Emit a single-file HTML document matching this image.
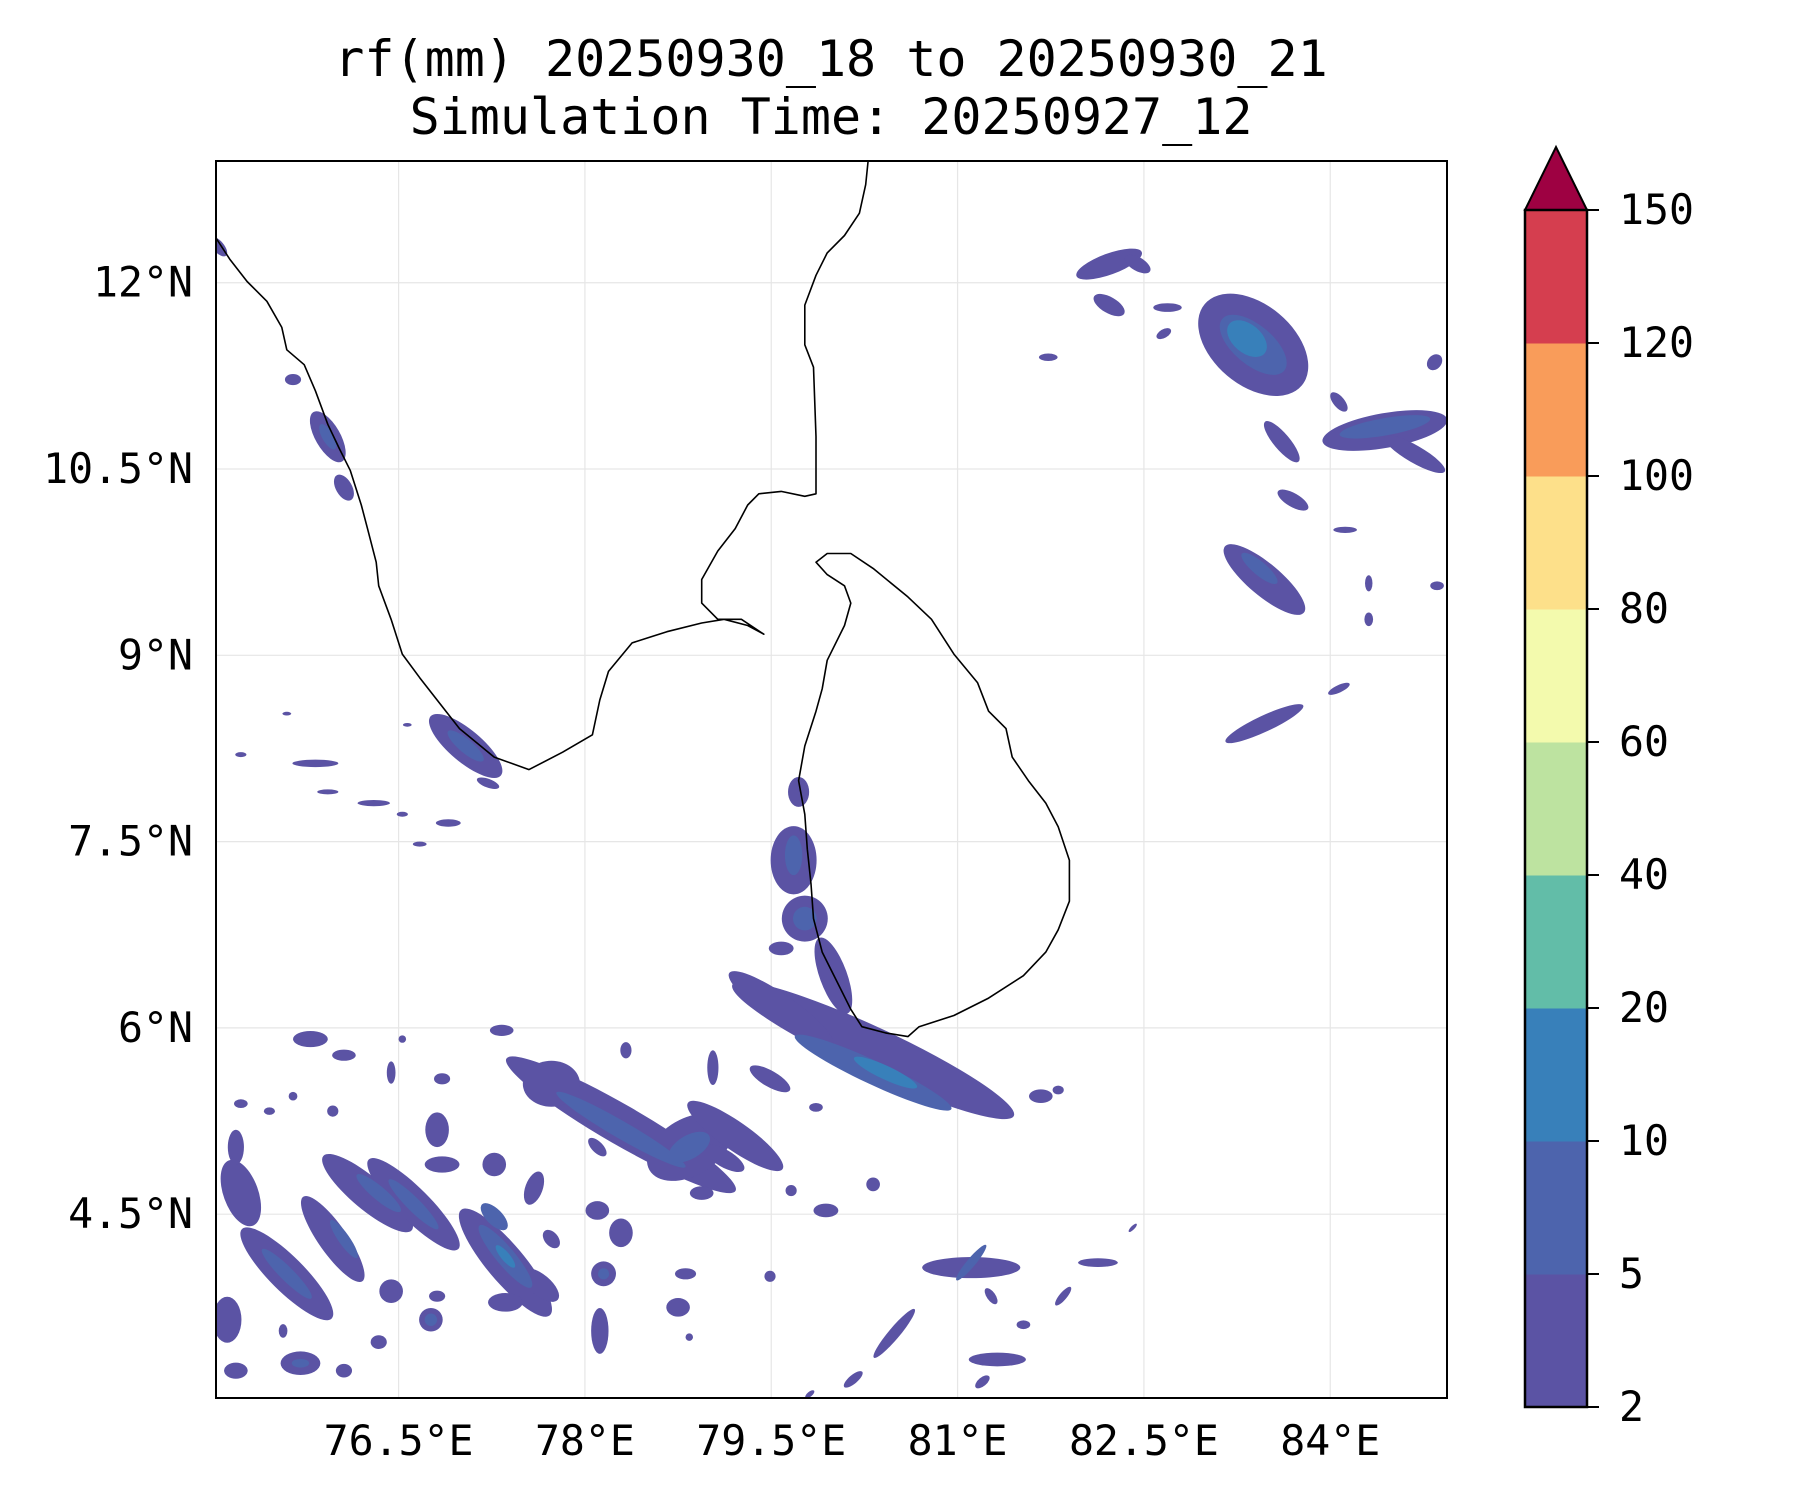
<!DOCTYPE html>
<html><head><meta charset="utf-8"><style>
html,body{margin:0;padding:0;background:#fff;}
svg{display:block;font-family:"DejaVu Sans Mono","Liberation Mono",monospace;}
</style></head><body>
<svg id="chart" width="1800" height="1500" viewBox="0 0 1800 1500" xmlns="http://www.w3.org/2000/svg">
<text x="831" y="76" font-size="50" text-anchor="middle">rf(mm) 20250930_18 to 20250930_21</text>
<text x="831" y="134" font-size="50" text-anchor="middle">Simulation Time: 20250927_12</text>
<defs><clipPath id="mapclip"><rect x="216" y="161" width="1231" height="1237"/></clipPath></defs>
<g id="grid"></g>
<g id="rain" clip-path="url(#mapclip)"></g>
<g id="coast" clip-path="url(#mapclip)"></g>
<rect x="216" y="161" width="1231" height="1237" fill="none" stroke="#000" stroke-width="2"/>
<g id="xlabels"></g>
<g id="ylabels"></g>
<g id="cbar"></g>
</svg>
<script>
const lonTicks=[76.5,78,79.5,81,82.5,84];
const lonTickLabels=["76.5°E","78°E","79.5°E","81°E","82.5°E","84°E"];
const latTicks=[12,10.5,9,7.5,6,4.5];
const latTickLabels=["12°N","10.5°N","9°N","7.5°N","6°N","4.5°N"];
const cbLevels=["2","5","10","20","40","60","80","100","120","150"];
const cbColors=["#5b53a4","#4d64ad","#3880ba","#62bda8","#bde3a0","#f3faad","#fde08a","#f99c5a","#d53e4f"];
const cbExtendColor="#9e0142";
const indiaLon=[75.03,75.14,75.28,75.44,75.56,75.6,75.74,75.83,75.93,76.02,76.11,76.2,76.25,76.32,76.34,76.44,76.53,76.67,76.81,76.99,77.27,77.55,77.82,78.06,78.12,78.19,78.38,78.66,78.94,79.12,79.31,79.44,79.26,79.07,78.94,78.94,79.07,79.21,79.31,79.4,79.58,79.77,79.86,79.86,79.84,79.77,79.77,79.86,79.95,80.09,80.21,80.26,80.28];
const indiaLat=[12.36,12.19,12.01,11.85,11.64,11.46,11.34,11.13,10.86,10.67,10.49,10.21,10.02,9.75,9.56,9.29,9.01,8.82,8.64,8.41,8.18,8.08,8.22,8.36,8.64,8.87,9.1,9.19,9.26,9.29,9.24,9.17,9.29,9.29,9.42,9.61,9.84,10.02,10.21,10.3,10.32,10.28,10.3,10.76,11.32,11.5,11.82,12.06,12.24,12.38,12.56,12.79,12.98];
const lankaLon=[79.86,79.95,80.14,80.32,80.6,80.79,80.97,81.16,81.25,81.39,81.44,81.57,81.71,81.81,81.9,81.9,81.81,81.71,81.53,81.25,80.97,80.69,80.6,80.42,80.23,80.14,80.05,79.91,79.84,79.82,79.79,79.77,79.72,79.77,79.86,79.91,79.95,80.09,80.14,80.09,79.95,79.86];
const lankaLat=[9.75,9.82,9.82,9.7,9.47,9.29,9.01,8.78,8.55,8.41,8.18,7.99,7.81,7.62,7.35,7.02,6.79,6.61,6.42,6.24,6.1,6.01,5.93,5.96,6.01,6.15,6.33,6.61,6.88,7.16,7.44,7.72,7.99,8.27,8.55,8.73,8.96,9.24,9.42,9.56,9.65,9.75];
const rainLon=[83.38,83.38,83.33,82.22,82.45,82.22,82.69,82.66,81.73,84.44,84.44,84.68,84.07,83.61,83.70,83.47,83.43,83.47,84.07,84.31,84.86,84.31,84.12,84.84,75.93,75.93,76.06,75.65,75.05,77.04,77.04,77.22,75.83,75.23,76.30,76.53,76.90,76.67,75.93,75.60,76.57,79.72,79.68,79.68,79.77,79.77,80.0,79.58,80.32,80.32,80.42,79.58,79.49,79.03,78.33,80.69,81.67,81.81,79.86,78.29,78.29,77.73,78.84,78.84,79.21,79.12,78.94,77.59,77.27,78.10,78.10,78.29,77.73,76.81,76.85,76.85,77.33,76.44,76.53,75.79,76.06,75.23,75.46,75.65,75.97,76.25,76.34,76.62,76.62,77.36,77.36,77.36,77.64,77.27,75.97,76.06,75.60,75.60,75.23,75.19,75.12,75.19,75.71,75.71,76.06,76.76,76.76,76.81,76.44,77.36,76.34,78.12,78.15,78.15,78.75,78.84,78.81,79.49,79.94,79.66,80.32,75.57,81.11,81.11,80.49,81.27,81.32,81.20,82.13,81.85,82.41,80.16,79.81,81.53];
const rainLat=[11.50,11.50,11.55,12.15,12.15,11.82,11.80,11.59,11.40,10.81,10.84,10.62,11.04,10.72,10.25,9.61,9.70,8.45,8.73,9.58,9.56,9.29,10.01,11.36,10.76,10.76,10.35,11.22,12.29,8.27,8.27,7.97,8.13,8.20,7.81,7.72,7.65,7.48,7.90,8.53,8.44,7.90,7.35,7.39,6.88,6.88,6.42,6.64,5.82,5.64,5.64,6.15,5.59,5.68,5.82,5.50,5.45,5.50,5.36,5.22,5.18,5.55,5.04,5.04,5.13,4.95,4.67,4.71,4.90,5.04,4.53,4.35,4.30,5.18,4.90,5.59,5.98,5.64,5.91,5.91,5.78,5.39,5.33,5.45,5.33,4.67,4.67,4.58,4.58,4.11,4.16,4.16,3.93,4.48,4.30,4.30,4.02,4.02,4.67,5.04,3.65,3.24,3.30,3.30,3.24,3.65,3.65,3.84,3.88,3.79,3.47,3.56,4.02,4.02,3.75,3.51,4.02,4.0,4.53,4.69,4.74,3.56,4.07,4.11,3.54,3.84,3.33,3.15,4.11,3.84,4.39,3.17,3.05,3.61];
const rainLen=[1.02,0.65,0.37,0.56,0.23,0.28,0.23,0.13,0.15,1.02,0.74,0.56,0.19,0.42,0.28,0.83,0.37,0.69,0.19,0.06,0.11,0.07,0.19,0.14,0.46,0.23,0.23,0.13,0.19,0.74,0.37,0.19,0.37,0.09,0.26,0.09,0.20,0.11,0.17,0.07,0.07,0.17,0.37,0.14,0.37,0.19,0.65,0.20,2.5,1.39,0.56,1.02,0.37,0.09,0.09,0.46,0.19,0.09,0.11,2.13,1.2,0.46,0.74,0.37,0.93,0.37,0.19,0.14,0.19,0.19,0.19,0.19,0.11,0.19,0.28,0.13,0.19,0.07,0.06,0.28,0.19,0.11,0.09,0.07,0.09,0.93,0.46,1.02,0.56,1.11,0.65,0.23,0.37,0.28,0.83,0.37,1.02,0.56,0.28,0.13,0.23,0.19,0.32,0.14,0.13,0.19,0.10,0.13,0.19,0.28,0.13,0.14,0.20,0.09,0.19,0.06,0.17,0.09,0.20,0.09,0.11,0.07,0.79,0.37,0.51,0.07,0.46,0.14,0.32,0.19,0.09,0.19,0.09,0.11];
const rainWid=[0.65,0.32,0.23,0.17,0.11,0.13,0.07,0.07,0.06,0.28,0.14,0.14,0.09,0.13,0.11,0.26,0.11,0.13,0.06,0.13,0.07,0.11,0.05,0.11,0.20,0.09,0.13,0.09,0.09,0.26,0.11,0.07,0.06,0.04,0.05,0.04,0.06,0.04,0.04,0.03,0.03,0.24,0.55,0.32,0.37,0.19,0.22,0.11,0.37,0.19,0.11,0.23,0.13,0.28,0.13,0.13,0.11,0.07,0.07,0.32,0.14,0.37,0.46,0.19,0.23,0.14,0.11,0.28,0.19,0.09,0.15,0.23,0.17,0.28,0.13,0.09,0.09,0.18,0.06,0.13,0.09,0.07,0.06,0.07,0.09,0.26,0.11,0.26,0.11,0.30,0.15,0.07,0.17,0.13,0.23,0.09,0.28,0.11,0.56,0.28,0.37,0.13,0.19,0.07,0.11,0.19,0.10,0.09,0.19,0.15,0.11,0.37,0.20,0.09,0.15,0.06,0.09,0.09,0.11,0.09,0.11,0.11,0.17,0.07,0.09,0.15,0.11,0.07,0.07,0.06,0.03,0.07,0.04,0.07];
const rainAng=[40,40,40,-20,30,30,0,-30,0,-10,-10,30,50,50,30,40,40,-25,-25,0,0,0,0,-50,60,60,60,0,50,40,40,20,0,0,0,0,0,0,0,0,0,0,0,0,60,60,70,0,25,25,25,35,30,0,0,30,0,0,0,30,30,0,-30,-30,35,30,0,20,0,45,0,0,-40,0,0,0,0,0,0,0,0,0,0,0,0,40,40,45,45,50,50,50,40,45,55,55,45,45,-20,0,0,0,0,0,0,0,0,0,0,0,0,0,0,0,0,0,0,0,0,45,0,0,0,-50,-50,-35,0,-40,0,-50,-45,-40,-40,0,0];
const rainLvl=[0,1,2,0,0,0,0,0,0,0,1,0,0,0,0,0,1,0,0,0,0,0,0,0,0,1,0,0,0,0,1,0,0,0,0,0,0,0,0,0,0,0,0,1,0,1,0,0,0,1,2,0,0,0,0,0,0,0,0,0,1,0,0,1,0,0,0,0,0,0,0,0,0,0,0,0,0,0,0,0,0,0,0,0,0,0,1,0,1,0,1,2,0,1,0,1,0,1,0,0,0,0,0,1,0,0,1,0,0,0,0,0,0,1,0,0,0,0,0,0,0,0,0,1,0,0,0,0,0,0,0,0,0,0];

const NS="http://www.w3.org/2000/svg";
const X0=216,X1=1447,Y0=161,Y1=1398;
const LON0=75.03,LON1=84.94,LAT0=3.02,LAT1=12.98;
function xScale(lon){return X0+(lon-LON0)/(LON1-LON0)*(X1-X0);}
function yScale(lat){return Y1-(lat-LAT0)/(LAT1-LAT0)*(Y1-Y0);}
const pxPerDeg=(X1-X0)/(LON1-LON0);
function mk(tag,attrs,parent){const e=document.createElementNS(NS,tag);for(const k in attrs)e.setAttribute(k,attrs[k]);parent.appendChild(e);return e;}

const grid=document.getElementById('grid');
lonTicks.forEach(v=>{const l=mk('line',{x1:xScale(v),x2:xScale(v),y1:Y0,y2:Y1,stroke:'#e6e6e6','stroke-width':1.2},grid);

});
latTicks.forEach(v=>{const l=mk('line',{x1:X0,x2:X1,y1:yScale(v),y2:yScale(v),stroke:'#e6e6e6','stroke-width':1.2},grid);

});

const rain=document.getElementById('rain');
for(let lvl=0;lvl<3;lvl++){
 for(let i=0;i<rainLon.length;i++){
  if(rainLvl[i]!==lvl)continue;
  const cx=xScale(rainLon[i]),cy=yScale(rainLat[i]);
  const e=mk('ellipse',{cx:cx,cy:cy,rx:rainLen[i]*pxPerDeg/2,ry:rainWid[i]*pxPerDeg/2,fill:cbColors[lvl],transform:`rotate(${rainAng[i]} ${cx} ${cy})`},rain);
  
  
 }
}

const coast=document.getElementById('coast');
function line(lons,lats,name,close){
 const pts=lons.map((v,i)=>xScale(v).toFixed(1)+','+yScale(lats[i]).toFixed(1)).join(' ');
 const p=mk(close?'polygon':'polyline',{points:pts,fill:'none',stroke:'#000','stroke-width':1.6,'stroke-linejoin':'round'},coast);
 
 
}
line(indiaLon,indiaLat,'india-coastline',false);
line(lankaLon,lankaLat,'sri-lanka-coastline',true);

const xl=document.getElementById('xlabels');
lonTicks.forEach((v,i)=>{const t=mk('text',{x:xScale(v),y:1455,'font-size':41.5,'text-anchor':'middle'},xl);t.textContent=lonTickLabels[i];

});
const yl=document.getElementById('ylabels');
latTicks.forEach((v,i)=>{const t=mk('text',{x:193,y:yScale(v)+14,'font-size':41.5,'text-anchor':'end'},yl);t.textContent=latTickLabels[i];

});

const cb=document.getElementById('cbar');
const CX0=1525,CX1=1587,CT=210,CB=1407;
const n=cbColors.length,step=(CB-CT)/n;
cbColors.forEach((c,i)=>{const r=mk('rect',{x:CX0,y:CB-(i+1)*step,width:CX1-CX0,height:step+0.5,fill:c},cb);

});
const tri=mk('polygon',{points:`${CX0},${CT} ${(CX0+CX1)/2},147 ${CX1},${CT}`,fill:cbExtendColor,stroke:'#000','stroke-width':2},cb);


const fr=mk('rect',{x:CX0,y:CT,width:CX1-CX0,height:CB-CT,fill:'none',stroke:'#000','stroke-width':2.5},cb);


cbLevels.forEach((lab,i)=>{const y=CB-i*step;
 const tk=mk('line',{x1:CX1,x2:CX1+12,y1:y,y2:y,stroke:'#000','stroke-width':2},cb);
 
 
 const t=mk('text',{x:1619,y:y+14,'font-size':41.5},cb);t.textContent=lab;
 
 });
</script>
</body></html>
